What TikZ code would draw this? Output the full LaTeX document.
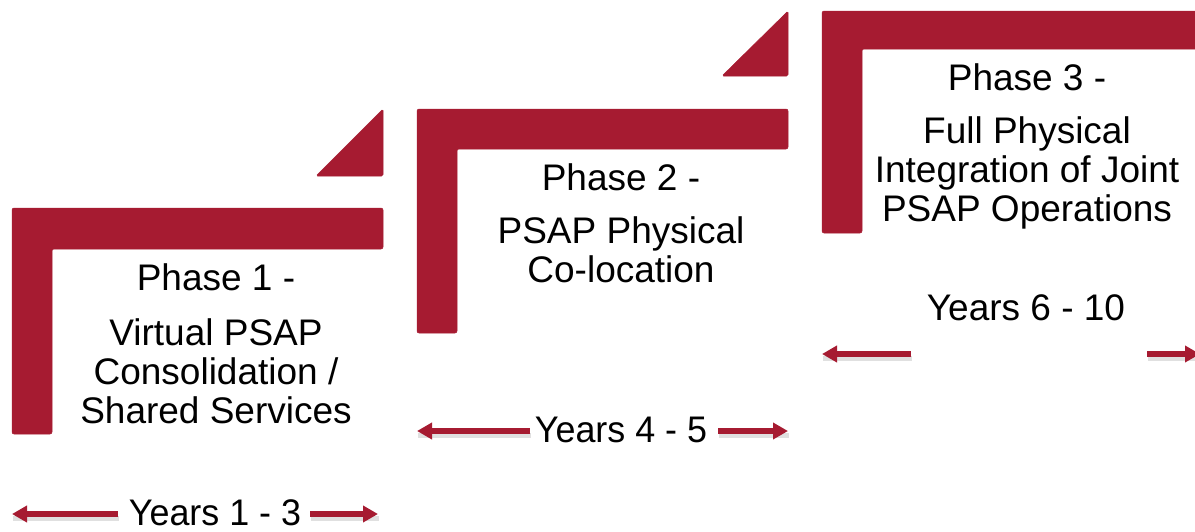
\documentclass[tikz,border=0pt]{standalone}
\usepackage{fontspec}
\setmainfont{Liberation Sans}
\usetikzlibrary{arrows.meta}
\definecolor{phasered}{RGB}{166,27,49}
\tikzset{
  x=1pt, y=-1pt,
  lshape/.style={fill=phasered, draw=phasered, line width=0.5pt, rounded corners=2pt},
  tri/.style={fill=phasered, draw=phasered, line width=0.5pt, rounded corners=1.5pt},
  lbl/.style={anchor=base, inner sep=0pt, font=\fontsize{37}{39}\selectfont},
  yrs/.style={anchor=base, inner sep=0pt, font=\fontsize{37}{39}\selectfont},
  yarrow/.style={draw=phasered, line width=5.5pt, -{Triangle[length=15pt,width=16pt]}},
  yshadow/.style={draw=black!12, line width=5pt},
}
\newcommand{\yrtext}[1]{\scalebox{0.97}[1]{#1}}
\begin{document}
\begin{tikzpicture}
\useasboundingbox (0,0) rectangle (1195,531);
\clip (0,0) rectangle (1195,531);
% Phase 1
\draw[lshape] (12,208) -- (383,208) -- (383,249) -- (52,249) -- (52,434) -- (12,434) -- cycle;
\draw[tri] (316,176) -- (383,109) -- (383,176) -- cycle;
% Phase 2
\draw[lshape] (417,109) -- (788,109) -- (788,149) -- (457,149) -- (457,333) -- (417,333) -- cycle;
\draw[tri] (722,76) -- (788,11) -- (788,76) -- cycle;
% Phase 3
\draw[lshape] (822,11) -- (1210,11) -- (1210,49) -- (862,49) -- (862,233) -- (822,233) -- cycle;

% texts phase 1
\node[lbl] (p1a) at (216,290) {Phase 1 -};
\node[lbl] (p1b) at (216,345) {Virtual PSAP};
\node[lbl] (p1c) at (216,384) {Consolidation /};
\node[lbl] (p1d) at (216,423) {Shared Services};
% phase 2
\node[lbl] (p2a) at (621,190) {Phase 2 -};
\node[lbl] (p2b) at (621,243) {PSAP Physical};
\node[lbl] (p2c) at (621,282) {Co-location};
% phase 3
\node[lbl] (p3a) at (1027,90) {Phase 3 -};
\node[lbl] (p3b) at (1027,143) {Full Physical};
\node[lbl] (p3c) at (1027,182) {Integration of Joint};
\node[lbl] (p3d) at (1027,221) {PSAP Operations};

% years
\node[yrs] (y1) at (215,525) {\yrtext{Years 1 - 3}};
\node[yrs] (y2) at (621,442) {\yrtext{Years 4 - 5}};
\node[lbl] (y3) at (1026,320) {Years 6 - 10};

\coordinate (y1l) at (12,514);  \coordinate (y1lt) at (118,514);
\coordinate (y1r) at (378,514); \coordinate (y1rt) at (310,514);
\coordinate (y2l) at (417,431); \coordinate (y2lt) at (530,431);
\coordinate (y2r) at (788,431); \coordinate (y2rt) at (718,431);
\coordinate (y3l) at (822,354); \coordinate (y3lt) at (911,354);
\coordinate (y3r) at (1200,354); \coordinate (y3rt) at (1147,354);

\foreach \a/\b in {y1lt/y1l, y1rt/y1r, y2lt/y2l, y2rt/y2r, y3lt/y3l, y3rt/y3r}{
  \draw[yshadow] ([shift={(1,4)}]\a) -- ([shift={(1,4)}]\b);
}
\foreach \a/\b in {y1lt/y1l, y1rt/y1r, y2lt/y2l, y2rt/y2r, y3lt/y3l, y3rt/y3r}{
  \draw[yarrow] (\a) -- (\b);
}
\end{tikzpicture}
\end{document}
